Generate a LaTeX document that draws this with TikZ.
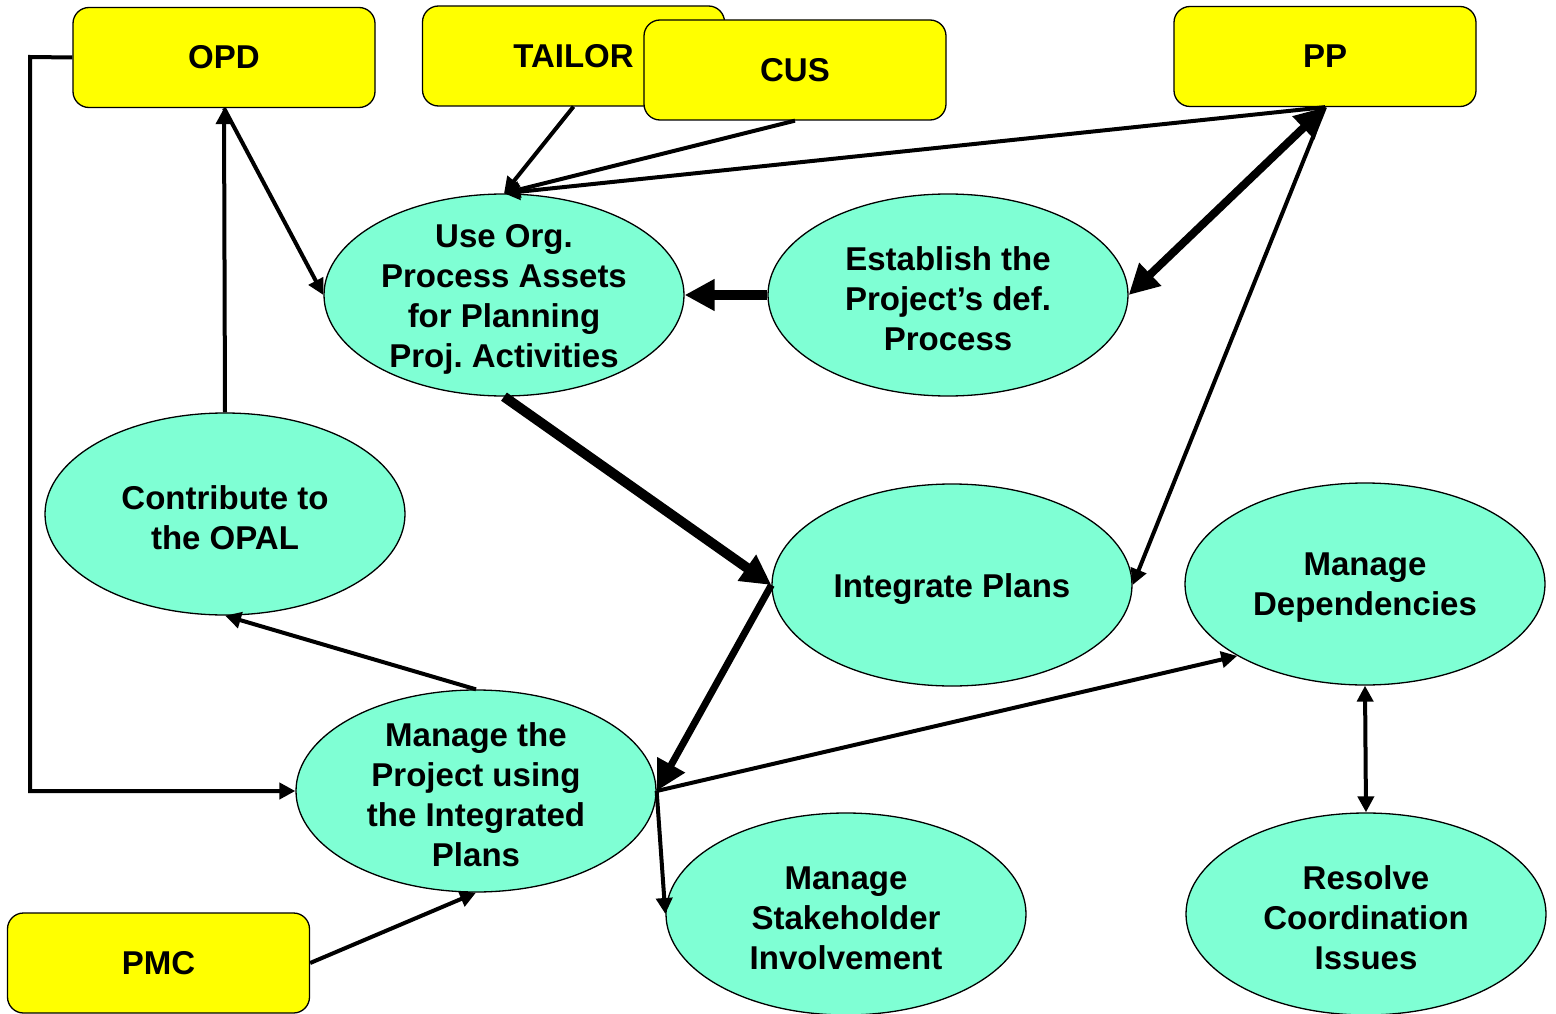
\documentclass[tikz,border=0pt]{standalone}
\usepackage{fontspec}
\setmainfont{Liberation Sans}
\usetikzlibrary{shapes.geometric,arrows.meta}
\definecolor{aqua}{RGB}{127,255,212}
\definecolor{yel}{RGB}{255,255,0}
\frenchspacing
\begin{document}
\begin{tikzpicture}[x=1pt,y=-1pt,
 box/.style={draw=black,line width=1.3pt,fill=yel,rounded corners=16pt,minimum width=302pt,minimum height=100pt,inner sep=0pt,font=\fontsize{33}{40}\selectfont\bfseries},
 ell/.style={ellipse,draw=black,line width=1.3pt,fill=aqua,minimum width=360pt,minimum height=202pt,inner sep=0pt},
 lbl/.style={align=center,font=\fontsize{33}{40}\selectfont\bfseries,inner sep=0pt,yshift=-4pt},
 conn/.style={line width=4pt,-{Triangle[length=16pt,width=16pt]}},
 dconn/.style={line width=4pt,{Triangle[length=16pt,width=16pt]}-{Triangle[length=16pt,width=16pt]}},
 bigconn/.style={line width=#1,-{Triangle[length=30pt,width=30pt]}},
 dbigconn/.style={line width=#1,{Triangle[length=30pt,width=30pt]}-{Triangle[length=30pt,width=30pt]}},
]
\useasboundingbox (0,0) rectangle (1556,1014);

% boxes
\node[box] (opd) at (224,57.5) {OPD};
\node[box] (tailor) at (573.5,56) {TAILOR};
\node[box] (cus) at (795,70) {CUS};
\node[box] (pp) at (1325,56.5) {PP};
\node[box] (pmc) at (158.5,963) {PMC};

% ellipses
\node[ell] (useorg) at (504,295) {};
\node[ell] (estab) at (948,295) {};
\node[ell] (contrib) at (225,514) {};
\node[ell] (integ) at (952,585) {};
\node[ell] (mdep) at (1365,584) {};
\node[ell] (mproj) at (476,791) {};
\node[ell] (mstake) at (846,914) {};
\node[ell] (resolve) at (1366,914) {};

\node[lbl] (tuseorg) at (useorg) {Use Org.\\Process Assets\\for Planning\\Proj. Activities};
\node[lbl] (testab) at (estab) {Establish the\\Project’s def.\\Process};
\node[lbl] (tcontrib) at (contrib) {Contribute to\\the OPAL};
\node[lbl] (tinteg) at (integ) {Integrate Plans};
\node[lbl] (tmdep) at (mdep) {Manage\\Dependencies};
\node[lbl] (tmproj) at (mproj) {Manage the\\Project using\\the Integrated\\Plans};
\node[lbl] (tmstake) at (mstake) {Manage\\Stakeholder\\Involvement};
\node[lbl] (tresolve) at (resolve) {Resolve\\Coordination\\Issues};

% connectors
\coordinate (lc) at (30,57);
\draw[conn,line cap=butt] (opd.west) -- (lc) |- (mproj.west);
\draw[conn] (contrib.north) -- (opd.south);
\draw[conn] (opd.south) -- (useorg.west);
\draw[conn] (tailor.south) -- (useorg.north);
\draw[conn] (cus.south) -- (useorg.north);
\draw[conn] (pp.south) -- (useorg.north);
\draw[bigconn=10pt] (estab.west) -- (useorg.east);
\draw[dbigconn=8pt] (estab.east) -- (pp.south);
\draw[conn] (pp.south) -- (integ.east);
\draw[bigconn=10pt] (useorg.south) -- (integ.west);
\draw[bigconn=7pt] (integ.west) -- (mproj.east);
\draw[conn] (mproj.north) -- (contrib.south);
\draw[conn] (mproj.east) -- (mdep.south west);
\draw[conn] (mproj.east) -- (mstake.west);
\draw[conn] (pmc.east) -- (mproj.south);
\draw[dconn] (mdep.south) -- (resolve.north);
\end{tikzpicture}
\end{document}
